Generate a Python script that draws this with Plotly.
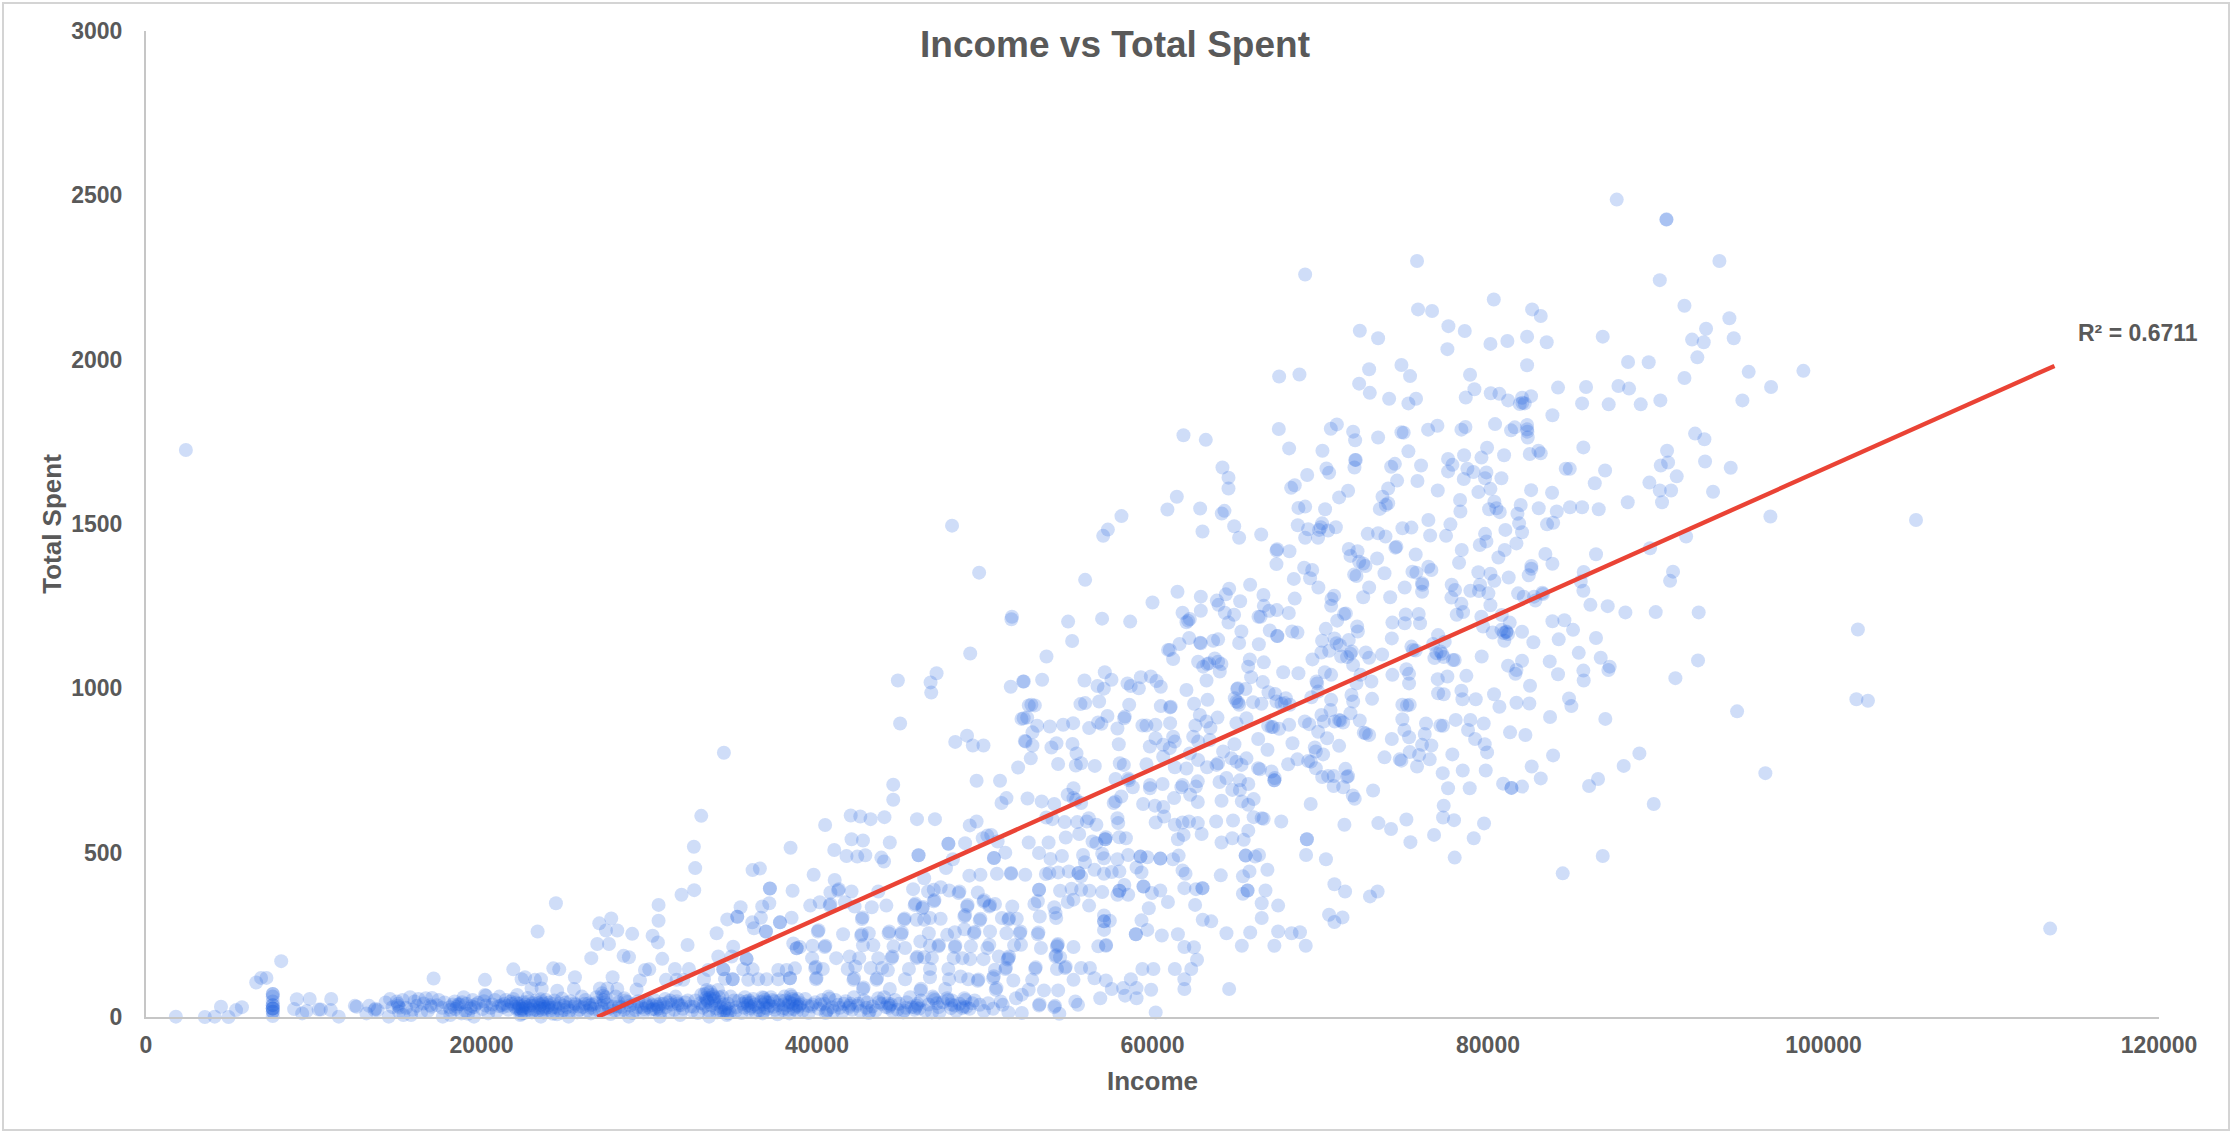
import plotly.graph_objects as go

# (income, total spent) customers, grouped by where they sit in the cloud
top_customers = [
(69100,2259),(72358,2088),(73450,2065),(72914,1971),(72318,1927),(72954,1899),(74107,1881),(74840,1984),(67550,1949),(68760,1955),
(67530,1789),(68145,1730),(70130,1723),(70630,1790),(70990,1803),(71960,1781),(72080,1755),(73450,1763),(74840,1779),(61846,1770),
(63177,1756),(64170,1672),(64530,1641),(64530,1608),(61450,1583),(60890,1544),(62840,1547),(64290,1540),(64130,1532),(58150,1524),
(57340,1483),(57060,1464),(62980,1477),(64870,1493),(65165,1458),(66480,1468),(69220,1649),(68480,1618),(68265,1610),(70370,1669),
(70530,1656),(72080,1695),(72120,1695),(72040,1672),(74450,1683),(74225,1674),(74580,1632),(74050,1608),(71660,1601),(71125,1581),
(73710,1583),(74050,1563),(73910,1558),(73550,1546),(68700,1549),(69100,1553),(70290,1545),(68660,1496),(69280,1484),(70110,1502),
(70030,1490),(69930,1482),(70470,1480),(70930,1490),(72830,1470),(73450,1472),(73890,1462),(74900,1487),(69100,1458),(69870,1458),
(87675,2487),(90635,2426),(90640,2427),(75770,2300),(93795,2300),(90240,2242),(75830,2153),(76665,2148),(80345,2183),
(82630,2153),(83145,2133),(91710,2164),(94390,2126),(93000,2094),(94650,2065),(92165,2061),(92860,2053),(92480,2007),(86840,2070),
(77640,2102),(78615,2087),(80145,2048),(81155,2057),(82330,2070),(83500,2053),(77580,2032),(82330,1983),(88350,1993),(89580,1992),
(75355,1950),(78930,1954),(91710,1944),(95540,1963),(96875,1917),(95165,1876),(84175,1915),(85845,1917),(87775,1920),
(88410,1912),(79190,1910),(78675,1885),(80165,1898),(80680,1896),(81200,1876),(82030,1884),(82565,1889),(81895,1865),(82190,1867),
(82050,1869),(85610,1867),(87195,1864),(89105,1864),(90275,1876),(75710,1881),(75255,1867),(83840,1831),(80420,1804),(76430,1787),
(76985,1799),(74975,1778),(78415,1787),(78655,1795),(81375,1785),(81595,1794),(82330,1801),(82330,1788),(82350,1781),(82370,1763),
(85685,1733),(92345,1775),(92900,1758),(90675,1723),(90735,1687),(90300,1678),(92940,1690),(94470,1671),(86980,1663),(84635,1668),
(84875,1668),(75255,1721),(79945,1732),(78575,1709),(79610,1702),(80960,1709),(82490,1713),(83005,1723),(83145,1715),(77620,1698),
(77880,1680),(77620,1660),(76010,1678),(78770,1668),(79130,1658),(79905,1657),(78555,1637),(79825,1639),(80800,1639),(75795,1631),
(77005,1602),(80145,1607),(79430,1597),(82570,1603),(83820,1595),(86365,1624),(89620,1626),(91250,1645),(90240,1602),
(90915,1602),(93415,1598),(88330,1566),(90375,1566),(78335,1573),(78355,1538),(80380,1568),(80500,1548),(80065,1545),(80700,1536),
(81950,1558),(81755,1531),(83025,1548),(84100,1538),(84890,1551),(85610,1551),(86600,1545),(96835,1523),(76445,1512),(77760,1499),
(81855,1502),(83885,1504),(83520,1499),(75435,1489),(81035,1482),(82030,1475),(76550,1465),(77500,1464),(79825,1470),
(91810,1462),(81695,1441),(79905,1447),(79510,1436),(74540,1431),(98800,1966),(105515,1512),(102050,1179),(101960,967),(102650,962),
(2377,1725),(113510,269),(48050,1495),(49665,1352),(51620,1218),(49133,1106),(44820,1024),(47128,1046),(46770,1018),(46810,987),
]

middle_right = [
(67390,1419),(67430,1423),(68165,1417),(67390,1378),(69040,1367),(69520,1360),(69395,1335),(68425,1333),(69890,1307),(68480,1273),
(71700,1424),(72220,1417),(71800,1403),(72320,1385),(72560,1380),(72695,1372),(73390,1395),(74480,1428),(73830,1350),(72020,1346),
(72160,1342),(72915,1307),(72560,1277),(74170,1277),(70830,1282),(70670,1272),(70650,1251),(71525,1228),(71420,1226),(71010,1206),
(70330,1181),(72200,1188),(72240,1173),(74300,1200),(74265,1152),(71700,1147),(70110,1145),(70850,1152),(70965,1137),(71165,1131),
(70070,1109),(70530,1114),(71880,1112),(71800,1105),(71245,1097),(71600,1095),(72715,1109),(72915,1093),(73690,1103),(69535,1088),
(71960,1071),(70270,1049),(70650,1041),(72400,1041),(74300,1041),(73050,1021),(72160,1015),(69775,1021),(69815,1015),(69875,990),
(69475,973),(71860,980),(71960,960),(73090,968),(70650,965),(70610,934),(71800,924),(70070,919),(70210,899),(71125,904),
(71205,902),(71365,896),(70865,899),(72355,902),(69080,899),(69340,891),(69875,868),(70410,848),(72595,865),(72915,858),
(72715,863),(74265,846),(71125,825),(69675,820),(69735,808),(70170,799),(69280,779),(68640,784),(68085,769),(69440,777),
(73830,790),(74740,784),(69735,757),(71500,755),(70470,733),(70805,733),(71660,733),(65820,1315),(64570,1303),(64370,1286),
(66615,1284),(65225,1265),(63835,1267),(63935,1254),(66635,1251),(66955,1236),(67410,1238),(68125,1229),(62880,1279),(62880,1236),
(61490,1294),(60000,1261),(61790,1230),(62225,1211),(62025,1201),(62125,1206),(64310,1230),(64865,1224),(64530,1200),(66320,1218),
(66440,1218),(66990,1176),(67450,1159),(67430,1159),(68325,1173),(68640,1170),(65300,1173),(65165,1138),(66340,1134),(63615,1145),
(63910,1149),(62185,1153),(62840,1139),(62880,1137),(61610,1135),(60930,1117),(61030,1117),(61230,1089),(62720,1081),(63020,1066),
(63375,1076),(63260,1074),(63715,1091),(63910,1081),(64110,1074),(64010,1051),(65800,1088),(66635,1079),(65700,1066),(65880,1034),
(67790,1049),(68700,1046),(63220,1024),(66575,1019),(62025,995),(65045,998),(65540,998),(65085,1000),(66915,988),(67310,983),
(64905,970),(63280,965),(65005,960),(65165,950),(65105,957),(65995,958),(66495,953),(67390,960),(67945,970),(67690,953),
(67885,955),(68185,950),(62480,953),(62820,919),(63875,911),(65600,909),(63215,899),(63455,879),(65005,894),(62560,887),
(66895,886),(67095,882),(67190,882),(67550,877),(68145,889),(66300,846),(66855,813),(68345,833),(64885,830),(63415,843),
(62720,838),(62425,853),(64210,808),(62225,802),(62720,782),(64705,787),(65600,787),(65005,777),(65305,767),(63915,772),
(63815,767),(63255,760),(62025,756),(61330,760),(66300,757),(66400,754),(67095,747),(67290,727),
]

middle_left = [
(55985,1330),(51590,1210),(54970,1203),(56995,1212),(58670,1203),(55210,1144),(53680,1097),(53420,1026),(52330,1021),(52290,1021),
(51550,1005),(55945,1024),(57155,1049),(57555,1026),(56720,1007),(57100,999),(58510,1015),(58705,1007),(59305,1034),(59900,1036),
(59185,1000),(60240,1022),(60495,1005),(52625,948),(52985,948),(55705,952),(55985,955),(56820,960),(58610,950),(60495,946),
(61050,942),(61090,944),(52190,907),(52530,911),(53125,886),(53880,884),(54675,889),(55270,894),(57315,916),(56760,896),
(56960,892),(56225,879),(57910,878),(58350,914),(58310,909),(59400,887),(59640,887),(60180,889),(61050,894),(52845,866),
(52390,840),(52845,826),(54275,833),(53975,820),(55230,831),(57990,830),(55470,802),(60180,848),(59840,823),(60635,828),
(61230,853),(61330,838),(61030,818),(60635,792),(52745,787),(51990,759),(54375,770),(55430,765),(55745,772),(56560,764),
(58050,772),(58290,767),(59640,769),(57795,724),(58550,726),(44955,893),(48945,856),(48240,837),(49290,826),
(49925,826),(52780,950),(52320,909),(52435,838),(44545,707),(44545,661),(49515,719),(50910,719),
]

right_lower = [
(83420,1409),(83840,1379),(86440,1408),(89660,1426),(75690,1407),(78435,1421),(78275,1382),(80995,1421),(80620,1398),
(76445,1370),(76625,1360),(75495,1355),(75730,1352),(79425,1353),(80145,1349),(80380,1327),(81235,1337),(82585,1372),(82585,1364),
(82430,1344),(85705,1354),(85530,1325),(85685,1297),(91030,1355),(90855,1327),(76070,1320),(76090,1315),(76070,1294),(75035,1307),
(77835,1315),(78035,1299),(77820,1276),(78950,1297),(79525,1315),(79465,1296),(80025,1289),(81795,1289),(82130,1279),(82745,1279),
(82825,1267),(83240,1291),(83280,1287),(80145,1253),(78415,1257),(78515,1232),(78135,1224),(79605,1218),(80820,1223),
(86105,1254),(87135,1250),(88190,1231),(89998,1232),(92560,1231),(75095,1225),(75870,1226),(75035,1198),(75950,1198),(79705,1188),
(81295,1200),(80800,1178),(80280,1170),(81095,1173),(81100,1171),(80940,1168),(81195,1165),(80975,1145),(82030,1172),
(82705,1140),(83840,1204),(84555,1207),(85070,1178),(84215,1149),(86440,1153),(77025,1162),(76725,1135),(77420,1142),(75435,1127),
(75535,1117),(75690,1115),(77160,1112),(77260,1105),(76925,1107),(77360,1095),(76805,1092),(78015,1086),(77915,1086),(79625,1097),
(85410,1108),(86720,1093),(83680,1082),(82030,1084),(81195,1069),(81695,1056),(81635,1044),(87255,1066),(87175,1056),(85685,1054),
(85705,1024),(84175,1043),(92520,1085),(91170,1031),(75135,1058),(75295,1044),(75295,1015),(77005,1028),(77580,1036),(78710,1038),
(82505,1008),(78415,993),(77025,985),(77360,982),(78475,967),(79270,967),(80360,982),(80680,944),(81695,956),(82465,954),
(84830,969),(84970,946),(74895,950),(75175,948),(75335,950),(83700,913),(86995,907),(94850,930),(78075,904),
(78950,904),(79745,893),(74895,906),(76305,893),(77160,887),(77320,886),(75015,873),(76230,861),(78810,873),(75295,851),
(79230,846),(81315,866),(82230,858),(79805,830),(76070,828),(76625,826),(75335,806),(79945,805),(75890,797),
(77875,799),(83880,796),(89025,802),(76525,784),(74835,780),(75770,762),(82605,762),(88090,764),(96535,742),(77300,742),
(78495,750),(79865,750),(83145,726),(86560,724),(77620,696),(78910,696),(80900,710),(81395,697),(81400,697),(82030,701),
(86025,703),(89880,648),(77360,643),(75135,601),(77320,607),(77975,599),(79765,589),(75375,532),(76785,554),(79150,544),
(78015,485),(84455,437),(86840,490),
]

central_band = [
(51295,666),(51000,651),(52550,665),(53395,656),(54145,648),(54945,676),(55290,696),(55290,666),(55445,661),(55745,651),
(57685,651),(57795,656),(58140,671),(58595,720),(58825,699),(59850,696),(59850,706),(60600,709),(59440,648),(60145,643),
(60645,639),(61285,666),(61790,706),(61720,699),(62700,717),(62585,701),(62245,676),(62700,654),(63995,715),(64410,727),
(65710,709),(65210,720),(64755,691),(65210,691),(64115,658),(65325,656),(65710,646),(66030,663),(67260,720),(67265,720),
(69430,648),(73150,689),(71940,674),(72055,664),(70115,730),(70800,703),(71370,699),(71595,730),(67675,595),(66030,608),
(66625,603),(66510,605),(64800,598),(63795,595),(62700,590),(62175,595),(61790,592),(61330,585),(60695,610),(60190,592),
(65710,567),(65440,539),(64755,544),(64115,531),(62930,557),(61855,554),(61515,541),(57910,605),(57955,590),(56200,605),
(56085,595),(56655,585),(55515,593),(54765,593),(54030,602),(53668,607),(49515,595),(49105,583),(47030,602),(45960,602),
(44020,608),(43195,602),(42580,610),(42010,613),(40485,584),(47830,527),(47835,527),(48830,529),(49880,544),(50155,552),
(50385,554),(50770,534),(52620,531),(53805,531),(54830,546),(55630,557),(56425,534),(56655,529),(57180,541),(57185,541),
(57225,547),(58025,547),(58415,544),(53235,499),(53920,481),(54600,490),(55860,493),(55970,471),(57000,497),(57110,483),
(57910,480),(58550,493),(59280,488),(59285,488),(59690,486),(60465,482),(60470,482),(61220,480),(61560,491),(51225,500),
(50545,484),(50550,484),(48100,480),(47690,453),(46050,492),(46055,492),(43835,485),(43995,473),(42880,492),
(42400,488),(41760,490),(41030,508),(44340,531),(42740,537),(42060,541),(39800,433),(41055,417),(46390,422),(49080,430),
(49745,433),(50725,436),(51570,436),(51565,438),(52415,433),(53645,435),(53850,438),(54375,440),(55013,443),
(55585,438),(55590,438),(55745,428),(56540,448),(57110,436),(57570,441),(58025,443),(59050,455),(59345,440),(61790,446),
(61970,436),(64070,431),(65390,428),(65780,443),(66850,448),(65550,491),(65555,491),(66120,488),(66350,493),(69155,493),
(70340,480),(69200,541),(69205,541),(71440,585),(73465,590),(74220,572),(70845,404),(71480,382),(73420,382),(72965,367),
(70525,311),(71325,303),(70845,289),(67490,260),(68290,255),(68790,258),(67265,217),(69135,217),(65825,257),(64410,255),
(65325,217),(66510,301),(67490,339),(66510,346),(66735,385),(65390,375),(65665,385),(65670,385),(62975,392),(62980,392),
(61900,392),(62590,389),(62540,341),(60920,350),(59780,331),(60465,385),(59965,377),(59460,397),(59465,397),(58320,402),
(58025,384),(58030,384),(58550,372),(57910,372),(57000,380),(56245,384),(55745,387),(55175,390),(54490,384),(53235,387),
(53240,387),(52960,344),(53165,352),(54945,350),(55290,357),(54145,334),(54260,301),(54215,316),(53280,306),(56220,339),
(57110,309),(57455,293),(57110,291),(57115,291),(57110,265),(59345,294),(59690,265),(59005,252),(59010,252),(60555,248),
(61515,252),(62995,296),(63500,291),
]

lower_band = [
(61900,213),(62470,212),(62655,174),(61330,146),(62310,146),(61900,115),(61900,85),(64570,85),(59395,146),(60055,146),
(59920,83),(58710,115),(59050,88),(58250,88),(58365,65),(59050,57),(57570,85),(57225,111),(56540,118),(56885,57),
(60190,14),(55290,113),(56770,215),(57225,217),(57235,219),(55290,213),(54330,218),(54360,222),(54300,214),
(54215,184),(54260,188),(54490,182),(54785,149),(54830,153),(54305,146),(55745,149),(56270,149),
(55400,47),(55560,37),(53235,35),(53270,39),(54145,30),(54190,34),(54445,10),(52210,12),(51410,14),
(53530,81),(54375,81),(52825,113),(53005,147),(53040,151),(51705,111),(52210,68),(51865,57),(50950,47),(51070,37),
(52620,83),(50655,83),(50700,88),(50500,118),(50540,124),(50610,144),(51225,146),(51265,150),
(51410,179),(51450,184),(51370,175),(50840,184),(52095,255),(52130,260),(53165,252),
(53200,257),(53350,210),(51750,218),(52160,220),(51295,255),(51410,296),(51450,300),(51020,301),(51910,299),
(51640,336),(50315,260),(50270,220),(50155,210),(49925,176),(49130,176),(48670,179),(48150,179),(49175,215),(48215,213),
(48250,217),(47830,146),(46735,146),(46845,179),(46390,182),(45935,179),(45975,183),(44450,179),(44490,184),
(45250,210),(44565,215),(46735,217),(47235,215),(47275,219),(46160,230),(46665,255),(47760,250),(48215,258),(48785,267),
(49355,255),(49395,259),(49700,294),(49740,299),(48785,306),(48830,310),(48945,336),(48985,341),
(49925,351),(49965,355),(50270,336),(50310,340),(50610,344),(49585,379),(48445,377),(48490,382),(47875,385),
(46960,387),(46960,352),(47005,356),(47370,395),(46620,382),(45730,389),(43655,382),(42060,382),(41260,385),(41300,389),
(40800,379),(39595,339),(40165,349),(40755,339),(40795,343),(41670,349),(42240,336),(43265,334),(44135,339),(45820,341),
(45860,345),(46275,331),(46315,335),(45935,296),(46390,296),(46735,301),(47370,299),(45185,296),(45225,300),(42675,298),
(42715,303),(40050,260),(40090,264),(41555,252),(42630,247),(42670,252),(43085,255),(44270,255),
(44310,260),(45020,252),(45060,257),(43360,218),(42740,218),(40460,213),(40500,217),(39730,217),
(38980,213),(39710,179),(41145,179),(41945,184),(42515,179),(43655,179),(39890,149),(39930,153),(40345,146),(41830,146),
(42285,154),(43200,149),(43880,149),(44225,142),(45480,146),(42170,113),(42210,118),(39935,115),(39975,119),
(43540,113),(43580,118),(45250,115),(46735,121),(47875,115),(48560,123),(49015,115),(49585,110),(49625,114),
(46165,81),(46205,86),(44340,85),(42740,85),(42780,90),(47645,85),
]

left_scatter = [
(34450,804),(33100,612),(32660,518),(38425,515),(32740,453),(36160,447),(36595,452),(32680,386),(31925,372),(30555,341),
(37190,391),(37195,391),(38545,384),(24437,346),(23345,260),(17145,117),(20205,113),(21895,145),(22590,121),(22390,115),
(23185,113),(23545,115),(22985,87),(23585,87),(20205,67),(24280,148),(24635,145),(24515,80),(25570,121),(25510,85),
(27815,121),(26545,179),(26900,222),(27600,222),(27020,285),(27735,300),(27420,263),(28095,263),(28985,253),(28470,186),
(28790,182),(27060,87),(27500,87),(28095,85),(29745,143),(30000,145),(29445,111),(29245,84),(30200,247),(30515,227),
(30555,293),(30775,177),(32285,219),(31530,146),(32365,146),(30995,113),(31630,113),(32030,113),(34015,255),(34650,297),
(35245,305),(35250,305),(35445,334),(36735,336),(37155,346),(36140,288),(36240,270),(36655,302),(36955,260),(36960,260),
(37790,288),(37795,288),(38485,302),(35005,214),(34115,184),(34910,184),(35800,177),(35805,177),(38785,209),(38790,209),
(38585,224),(33260,115),(33518,143),(34410,145),(34415,145),(34510,116),(34970,115),(34975,115),(35605,145),(36160,145),
(35900,113),(36500,115),(36995,115),(37690,115),(37690,143),(38190,143),(38685,148),(38385,118),(38390,118),
]

baseline_left = [
(1780,1),(3510,0),(4095,1),(4920,0),(4470,31),(5370,21),(5720,30),(6570,105),(6860,119),(7180,119),
(8060,170),(7555,70),(7560,70),(7555,62),(7555,47),(7555,36),(7560,36),(7555,26),(7560,26),(7550,26),
(7555,16),(7560,16),(7555,3),(8990,54),(9760,55),(11040,55),(8830,24),(9310,11),(9575,18),(10290,23),
(10425,23),(11010,21),(11490,1),(12450,34),(12555,31),(13140,11),(13300,34),(13620,21),(13680,25),(13805,21),
(14285,44),(14550,55),(14470,1),(14950,47),(15020,40),(15030,34),(15110,29),(15080,16),(15345,6),(15745,60),
(16010,47),(16145,34),(16680,57),(16545,41),(16945,36),(17020,31),(17340,36),(15800,6),(17690,1),(18140,6),
(18405,47),(18540,31),(18610,38),(18940,60),(18805,11),(19470,52),(19340,26),(19410,33),(19550,1),(20270,65),
(20400,11),(21060,62),(21200,36),(21280,30),(21730,47),(21800,40),(22130,67),(21995,31),(22070,25),(22395,26),
(22460,33),(22340,20),(22315,6),(22380,10),(22795,47),(22930,21),(23595,47),(23660,41),(23530,54),(23725,31),
(23790,25),(23540,1),(24125,21),(24190,28),(24660,41),(24925,21),(25190,1),(25455,31),(25985,62),(26385,41),
(26450,35),(26520,11),(27185,72),(27250,65),(27265,52),(27330,45),(27185,26),(27850,31),(28515,57),(28580,50),
(28250,16),(28780,1),(29180,21),(15500,28),(16400,15),(17050,58),(17800,44),(18150,22),(18700,39),(19050,18),
(19800,43),(20050,24),(20650,38),(20900,17),(21450,52),(22550,12),(23100,34),(23350,18),(24350,50),(24500,8),
(25000,44),(25700,14),(26050,30),(26700,25),(27500,38),(27700,9),(28000,62),(28850,35),(14700,30),(15300,52),
(15900,22),(16250,55),(16800,18),(17450,52),(17650,28),(18300,38),(18850,45),(19200,10),(19650,38),(20150,48),
(20550,28),(20800,52),(21050,33),(21600,22),(21900,55),(22200,40),(22650,30),(22750,58),(23000,14),(23250,50),
(23450,28),(23850,52),(24000,36),(24250,10),(24600,26),(24800,56),(25100,30),(25300,48),(25600,38),(25850,22),
(26200,52),(26600,38),(26850,60),(27050,16),(27400,60),(27950,20),(28150,44),(28350,30),(28700,46),(29000,12),
(22200,25),(22500,45),(22900,35),(23150,22),(23400,42),(23700,14),(24050,44),(24400,30),(24750,14),(26300,20),
(22250,32),(22450,24),(22600,38),(22850,25),(23050,42),(23500,36),(23650,24),(23950,30),(24300,40),(24900,34),
(25250,20),(25550,42),(25800,32),(26150,40),(26500,28),(26800,42),(27150,34),(27600,26),(28200,32),(28500,22),
(29100,40),(29300,30),(18100,30),(18450,24),(19100,40),(19550,30),(20250,35),(21350,40),(21550,34),(22050,44),
]

baseline_mid = [
(29845,36),(29900,30),(29790,42),(30510,31),(30570,26),(30450,38),(30410,22),(30640,1),(31575,62),(31705,41),
(31770,36),(31640,48),(31840,6),(32640,31),(33435,82),(33500,75),(33435,52),(33500,46),(33370,58),(33835,62),
(33900,56),(33770,68),(34500,21),(34560,27),(34440,15),(34630,6),(34690,11),(33570,1),(34100,82),(35830,41),
(35890,35),(35770,47),(35960,21),(36020,27),(36890,52),(36950,46),(36830,58),(36760,11),(36820,16),(37425,31),
(38490,62),(38550,55),(38430,68),(38355,11),(37960,21),(38020,27),(38755,31),(38815,36),(29350,48),(29650,14),
(30100,22),(30300,52),(30850,40),(31150,15),(32000,25),(32300,50),(32900,12),(33100,68),(33700,35),(34200,45),
(34850,62),(35200,30),(35500,12),(36200,55),(36500,30),(37100,44),(37650,8),(38100,50),(38600,24),(29550,30),
(30700,18),(30950,55),(31350,38),(31500,22),(32150,44),(32450,32),(32750,50),(33200,28),(33250,40),(33550,20),
(33950,40),(34050,14),(34350,62),(34700,40),(35050,50),(35350,50),(35650,28),(36050,44),(36350,14),(36650,46),
(36900,28),(37250,60),(37500,22),(37800,50),(38250,35),(38850,55),(29950,44),(30200,36),(31000,30),(31250,50),
(33300,70),(33650,78),(33850,50),(34150,60),(34300,30),(34750,25),(35700,60),(36100,32),(36750,60),(37050,25),
(37350,52),(38050,62),(38350,45),(38650,50),(30250,24),(30650,40),(31100,44),(31900,36),(32550,20),(33050,42),
(33350,34),(33600,58),(34000,26),(34250,18),(34450,38),(34800,14),(35150,18),(35550,40),(35950,50),(36300,38),
(36550,20),(36800,38),(37200,34),(37450,48),(37700,36),(38000,38),(38300,22),(38550,40),(38800,18),(29700,24),
]

baseline_right = [
(38980,37),(39040,42),(38920,31),(39660,32),(39720,38),(40575,17),(40635,22),(40515,12),(40690,62),(40750,56),
(41260,37),(41945,34),(42005,40),(41885,28),(42400,34),(42460,40),(43085,12),(43145,18),(43655,57),(44340,34),
(44400,39),(44280,28),(44220,42),(45135,14),(45195,20),(45935,34),(45995,40),(45875,28),(45815,22),(46960,57),
(47020,52),(46900,62),(46850,14),(47760,57),(47820,52),(48785,57),(48845,52),(48670,27),(48730,32),(49700,37),
(47990,27),(39300,55),(39500,12),(39900,45),(40100,25),(40300,52),(40900,30),(41100,52),(41500,15),(41700,48),
(42200,60),(42600,18),(42800,50),(43300,32),(43500,20),(43850,40),(44000,60),(44650,52),(44800,22),(45350,45),
(45550,60),(46200,50),(46450,20),(46650,38),(47250,30),(47500,45),(48050,50),(48300,18),(48500,40),(49100,25),
(49400,50),(49950,18),(50200,42),(50500,25),(39150,20),(40450,40),(41350,28),(42950,28),(43700,45),(44500,18),
(45650,30),(47150,42),(48200,35),(49250,42),(39450,34),(40200,38),(41000,18),(41600,40),(42100,22),(43000,44),
(44100,30),(44900,40),(45300,28),(46100,26),(47300,14),(48000,38),(48900,30),
]

trend_income = [26900, 113770]
trend_spent = [0, 1981]

x_ticks = [0, 20000, 40000, 60000, 80000, 100000, 120000]
y_ticks = [0, 500, 1000, 1500, 2000, 2500, 3000]

all_points = (top_customers + middle_right + middle_left + right_lower + central_band
              + lower_band + left_scatter + baseline_left + baseline_mid + baseline_right)
income = [p[0] for p in all_points]
total_spent = [p[1] for p in all_points]

FONT = "Liberation Sans"
TEXT = "#595959"
AXIS = "#c6c6c6"
W, H = 2232, 1135
L, R, T, B = 146, 2159, 31, 1017

fig = go.Figure()
fig.add_trace(go.Scatter(
    x=income, y=total_spent, mode="markers", cliponaxis=False,
    marker=dict(size=14, color="rgba(26,95,224,0.21)", line=dict(width=0)),
    showlegend=False, name="Total Spent",
))
fig.add_trace(go.Scatter(
    x=trend_income, y=trend_spent, mode="lines", cliponaxis=False,
    line=dict(color="#EA4335", width=4.4), showlegend=False, name="Trend",
))

axis_common = dict(
    showgrid=False, zeroline=False, showline=True, linecolor=AXIS, linewidth=2,
    ticks="", tickfont=dict(family=FONT, size=23, color=TEXT, weight="bold"),
    tickformat="d", automargin=False,
)
fig.update_xaxes(
    range=[0, 120000], tickvals=x_ticks, ticklabelstandoff=6,
    title=dict(text="<b>Income</b>", font=dict(family=FONT, size=26, color=TEXT), standoff=15),
    **axis_common,
)
fig.update_yaxes(
    range=[0, 3000], tickvals=y_ticks, ticklabelstandoff=17,
    title=dict(text="<b>Total Spent</b>", font=dict(family=FONT, size=26, color=TEXT), standoff=2),
    **axis_common,
)

fig.update_layout(
    width=W, height=H, autosize=False,
    margin=dict(l=L, r=W - R, t=T, b=H - B),
    paper_bgcolor="white", plot_bgcolor="white",
    font=dict(family=FONT, color=TEXT),
    title=dict(
        text="<b>Income vs Total Spent</b>",
        font=dict(family=FONT, size=37, color=TEXT),
        x=1115 / W, xanchor="center", xref="container",
        y=1 - 44 / H, yanchor="middle", yref="container",
    ),
    annotations=[dict(
        x=118720, y=2081, xref="x", yref="y", text="<b>R² = 0.6711</b>",
        showarrow=False, xanchor="center", yanchor="middle",
        font=dict(family=FONT, size=23, color=TEXT),
    )],
    # thin card outline around the whole chart
    shapes=[dict(
        type="rect", xref="paper", yref="paper", layer="below",
        x0=(3 - L) / (R - L), x1=(2229 - L) / (R - L),
        y0=(B - 1130) / (B - T), y1=(B - 3) / (B - T),
        line=dict(color="#d4d4d4", width=2), fillcolor="rgba(0,0,0,0)",
    )],
)

fig.write_html("out.html")
